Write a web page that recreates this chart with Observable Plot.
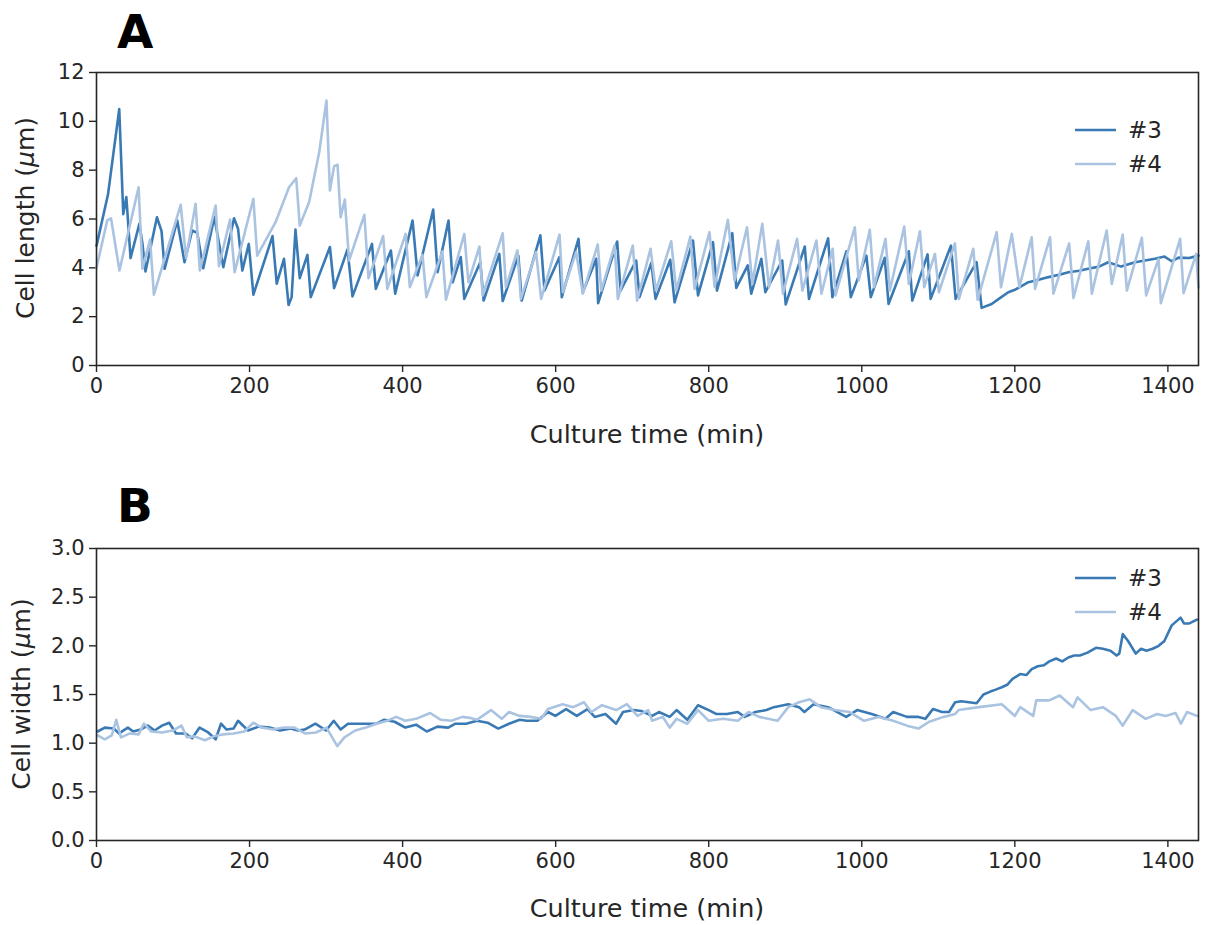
<!DOCTYPE html>
<html><head><meta charset="utf-8">
<script src="https://cdn.jsdelivr.net/npm/d3@7"></script>
<script src="https://cdn.jsdelivr.net/npm/@observablehq/plot@0.6"></script>
<style>
body{margin:0;background:#fff;}
#wrap{position:relative;width:1206px;height:925px;background:#fff;}
.panel{position:absolute;left:0;}
</style></head><body>
<div id="wrap">
 <div id="pa" class="panel" style="top:0"></div>
 <div id="pb" class="panel" style="top:460px"></div>
</div>
<script>
// ---------- Panel A: cell length (µm) ----------
const seriesNames = ["#3", "#4"];
const xTicks = [0, 200, 400, 600, 800, 1000, 1200, 1400];
const lengthTicks = [0, 2, 4, 6, 8, 10, 12];
const widthTicks = [0, 0.5, 1.0, 1.5, 2.0, 2.5, 3.0];

const lenTime3 = [0,15,29.7,35,39,44.5,56,60,64,79,85,89,105.5,115,125,131.7,139.5,154,165.7,179.7,185,190.6,199,205,230,235.5,245,251,255,260,265.6,275.6,280,305,310.5,328,334.5,360,365,384.7,390.3,413,419.6,440,445.7,460,465.4,476,480.6,501.5,505.9,526.4,530.8,551.3,555.6,580,585.4,605,608,629.8,635.5,653,655.5,680.4,684.8,705.2,709.6,725,730.5,749.7,755.4,779.4,786,805.6,810.8,830.8,836,851,855.6,868.8,874,896,900.6,925.5,931,956,961.6,980,985.7,1006,1011.8,1030,1035,1061.5,1066,1086,1090,1116.5,1122.6,1150,1156.6,1169.7,1180,1191.5,1200,1217.7,1230,1244,1258,1270,1284,1296,1310,1322,1339,1357,1370,1383,1395.6,1405,1414,1428,1440];
const lenVal3  = [4.9,7.0,10.5,6.2,6.9,4.4,5.8,5.0,3.85,6.07,5.5,3.96,5.94,4.23,5.53,5.43,3.98,6.07,4.03,6.03,5.6,3.89,4.98,2.9,5.3,3.35,4.37,2.48,2.8,5.57,3.58,4.53,2.8,4.85,3.17,4.75,2.83,4.98,3.14,4.71,2.94,5.94,3.69,6.39,3.82,5.94,3.41,4.44,2.73,4.23,2.66,4.57,2.64,4.5,2.66,5.33,3.07,4.44,2.8,5.19,3.0,4.37,2.55,5.08,3.07,4.3,2.8,4.2,2.73,4.33,2.59,5.12,2.87,5.05,3.07,5.42,3.18,4.1,2.94,4.37,3.0,4.3,2.5,4.87,2.73,5.21,2.8,4.68,2.8,4.5,2.8,4.41,2.52,4.68,2.66,4.55,2.73,4.91,2.73,4.23,2.36,2.52,2.75,3.0,3.1,3.41,3.5,3.62,3.72,3.82,3.88,3.96,4.05,4.23,4.05,4.23,4.3,4.37,4.46,4.27,4.42,4.4,4.5];

const lenTime4 = [0,14,19,30,55,60,70,75,110,117,129.5,135,155.7,160,174.5,180.5,205,210,234,251.6,261,265.6,277.8,291,300.5,305,310.5,315,319,324.5,330,350,355.5,374.6,380,404,409.5,426,431,452,456.6,480.6,486,500.3,504.6,530.8,535,550,554.5,574.4,581,605,609.3,626.7,635.5,655,659.5,677,681.3,700.8,706.4,724,731,751,757.6,776,781.5,801,807.7,825,833.8,850,857,870,878.8,890.6,897,915.5,922.4,940.7,947.3,962,965.6,990.9,996,1010.5,1016,1031,1036.7,1055.5,1061.5,1076,1081.6,1095.6,1100.8,1121.7,1127,1145.7,1151.4,1176.3,1181.9,1196,1206,1222,1226.4,1246,1250.4,1271,1276.6,1296,1300.6,1320,1326.7,1341,1346.4,1366,1371.6,1387.8,1390.8,1416,1420.5,1437,1440];
const lenVal4  = [4.0,5.94,6.03,3.89,7.3,3.96,5.16,2.9,6.58,4.4,6.62,3.89,6.55,4.07,5.98,3.82,6.83,4.5,5.87,7.3,7.67,5.73,6.69,8.73,10.85,7.17,8.16,8.22,6.07,6.8,4.3,6.17,3.58,5.3,3.14,5.39,3.21,4.53,2.8,4.67,2.7,5.39,3.41,4.87,2.87,5.42,3.21,4.71,2.73,4.64,2.73,5.36,3.0,4.64,2.94,4.96,3.07,4.91,2.73,4.91,2.66,4.78,3.07,5.09,3.07,5.28,3.14,5.46,3.23,5.97,3.48,5.66,3.34,5.8,3.21,5.12,2.94,5.19,3.07,5.12,2.94,4.78,2.87,5.66,3.48,5.56,3.21,5.19,3.07,5.69,3.34,5.5,3.21,4.57,3.0,5.0,2.73,4.78,2.69,5.46,3.21,5.39,3.21,5.25,3.14,5.25,2.94,5.0,2.77,5.09,2.94,5.53,3.34,5.36,3.07,5.23,2.87,4.37,2.55,5.19,2.96,4.57,3.2];

// ---------- Panel B: cell width (µm) ----------
const widTime3 = [1.5,10.8,22.5,29.5,41,48,57.6,67,76,85.6,95,104,116,125,134.7,146,155.7,162.7,170,179,185,198,212,226,240,254,263,272,286,300,310,319,328.6,340,352,366,375.5,389.6,403.6,417.6,431.6,445.6,459.6,469,483,497,511,525,539,553,562,576,590,599.6,613.6,627.6,641.6,651,665,679,688,702,712,726,735,749,758,772,786,800,809.6,823.7,838,847,861,875.5,885,904,918,925,937,956,979.6,994,1013,1031,1041,1059,1074,1083,1093,1105,1114,1122,1130,1140,1150,1159,1168,1175,1183,1190,1197,1207,1215,1222,1230,1238,1245,1254,1262,1270,1277.5,1285,1295,1306,1315,1325,1333,1336.5,1341,1348,1358,1365,1372,1380,1388,1395.4,1405,1416.6,1421,1428,1438];
const widVal3  = [1.12,1.16,1.15,1.10,1.16,1.12,1.14,1.18,1.13,1.18,1.21,1.10,1.10,1.05,1.16,1.11,1.04,1.20,1.14,1.15,1.23,1.13,1.17,1.16,1.13,1.15,1.13,1.14,1.20,1.13,1.23,1.14,1.20,1.20,1.20,1.20,1.24,1.22,1.16,1.19,1.12,1.17,1.16,1.20,1.20,1.23,1.21,1.15,1.20,1.24,1.23,1.23,1.32,1.28,1.35,1.28,1.35,1.27,1.30,1.20,1.32,1.34,1.33,1.28,1.32,1.27,1.34,1.24,1.39,1.34,1.30,1.30,1.32,1.27,1.32,1.34,1.37,1.40,1.37,1.32,1.40,1.37,1.27,1.34,1.30,1.25,1.32,1.27,1.27,1.25,1.35,1.32,1.32,1.42,1.43,1.42,1.41,1.50,1.53,1.55,1.575,1.60,1.66,1.71,1.70,1.76,1.79,1.80,1.84,1.87,1.84,1.88,1.90,1.90,1.93,1.98,1.97,1.95,1.90,1.92,2.12,2.05,1.92,1.97,1.95,1.97,2.00,2.05,2.21,2.29,2.23,2.23,2.27];

const widTime4 = [1.5,10.8,20,25.8,32,43.6,55,62,71.6,85.6,99.6,111,118,128,141.7,153,165,179,193,205,216,230.6,244.6,258.6,272.5,286.6,300.6,314.6,324,338,352,366,380,391.6,403.6,417.6,436,450,464,478,487.6,497,515.5,529.6,539,553,567,581,590,609,623,637,646.6,660.6,679,693,707,721,726,740,749,758,772,786,800,819,838,852,866,890,904,918,932,946.5,965,984,1003,1022,1041,1059,1074,1088,1107,1122,1126.6,1153,1183,1200,1207,1224,1228,1245,1258.7,1276,1282,1299,1315,1332,1341,1354,1371,1386,1397,1410,1417,1425,1438];
const widVal4  = [1.08,1.04,1.08,1.24,1.06,1.10,1.09,1.20,1.12,1.11,1.13,1.18,1.06,1.07,1.03,1.07,1.09,1.10,1.12,1.21,1.16,1.14,1.16,1.16,1.10,1.11,1.16,0.97,1.06,1.13,1.16,1.20,1.23,1.27,1.23,1.25,1.31,1.24,1.23,1.27,1.26,1.24,1.34,1.25,1.32,1.28,1.27,1.25,1.35,1.40,1.37,1.42,1.32,1.39,1.34,1.40,1.28,1.34,1.23,1.27,1.16,1.25,1.20,1.34,1.23,1.25,1.23,1.32,1.27,1.23,1.37,1.42,1.45,1.37,1.34,1.32,1.23,1.27,1.23,1.18,1.15,1.22,1.27,1.30,1.34,1.37,1.40,1.28,1.37,1.28,1.44,1.44,1.49,1.37,1.47,1.34,1.37,1.28,1.18,1.34,1.25,1.30,1.28,1.31,1.20,1.32,1.28];

const colors = ["#3a7ab4", "#a9c3e1"];

function rows(times, vals, name) { return times.map((t, i) => ({t, v: vals[i], series: name})); }
const lengthData = [...rows(lenTime3, lenVal3, seriesNames[0]), ...rows(lenTime4, lenVal4, seriesNames[1])];
const widthData  = [...rows(widTime3, widVal3, seriesNames[0]), ...rows(widTime4, widVal4, seriesNames[1])];

const FONT = "DejaVu Sans";
const INK = "#262626";

function panel(data, yTicks, yFmt, height, mTop, mBottom) {
  return Plot.plot({
    width: 1206, height, marginLeft: 96, marginRight: 8, marginTop: mTop, marginBottom: mBottom,
    style: {fontFamily: FONT, fontSize: "21px", color: INK, background: "white", overflow: "visible"},
    x: {domain: [0, 1440]},
    y: {domain: [yTicks[0], yTicks[yTicks.length - 1]]},
    color: {domain: seriesNames, range: colors},
    marks: [
      Plot.axisX({ticks: xTicks, tickSize: 7, tickPadding: 6, label: null, tickFormat: d => String(d), fontSize: 21, stroke: INK, strokeWidth: 1.4}),
      Plot.axisY({ticks: yTicks, tickSize: 7, tickPadding: 5, label: null, tickFormat: yFmt, fontSize: 21, stroke: INK, strokeWidth: 1.4}),
      Plot.line(data, {x: "t", y: "v", z: "series", stroke: "series", strokeWidth: 2.6, strokeLinejoin: "round"}),
      Plot.frame({stroke: INK, strokeWidth: 1.6})
    ]
  });
}

function decorate(svg, letter, letterY, xLabelY, yLabelX, yLabelY, yPre, legendY) {
  const s = d3.select(svg);
  s.append("text").attr("x", 117).attr("y", letterY).attr("text-anchor", "start").attr("font-family", FONT).attr("font-weight", "bold")
    .attr("font-size", 47).attr("fill", "#000").text(letter);
  s.append("text").attr("x", 647).attr("y", xLabelY).attr("text-anchor", "middle").attr("font-family", FONT)
    .attr("font-size", 25.5).attr("fill", INK).text("Culture time (min)");
  const yl = s.append("text").attr("transform", `translate(${yLabelX},${yLabelY}) rotate(-90)`)
    .attr("text-anchor", "middle").attr("font-family", FONT).attr("font-size", 25).attr("fill", INK);
  yl.append("tspan").text(yPre);
  yl.append("tspan").attr("font-style", "italic").text("μ");
  yl.append("tspan").text("m)");
  seriesNames.forEach((n, i) => {
    const y = legendY + i * 34;
    s.append("line").attr("x1", 1075).attr("x2", 1116).attr("y1", y).attr("y2", y)
      .attr("stroke", colors[i]).attr("stroke-width", 2.6);
    s.append("text").attr("x", 1128).attr("y", y + 8).attr("text-anchor", "start").attr("font-family", FONT).attr("font-size", 23)
      .attr("fill", INK).text(n);
  });
}

const svgA = panel(lengthData, lengthTicks, d => String(d), 460, 72, 95);
decorate(svgA, "A", 48, 443, 34, 218, "Cell length (", 130);
document.getElementById("pa").appendChild(svgA);

const svgB = panel(widthData, widthTicks, d => d.toFixed(1), 465, 88, 85);
decorate(svgB, "B", 62, 457, 30, 234, "Cell width (", 118);
document.getElementById("pb").appendChild(svgB);
</script>
</body></html>
